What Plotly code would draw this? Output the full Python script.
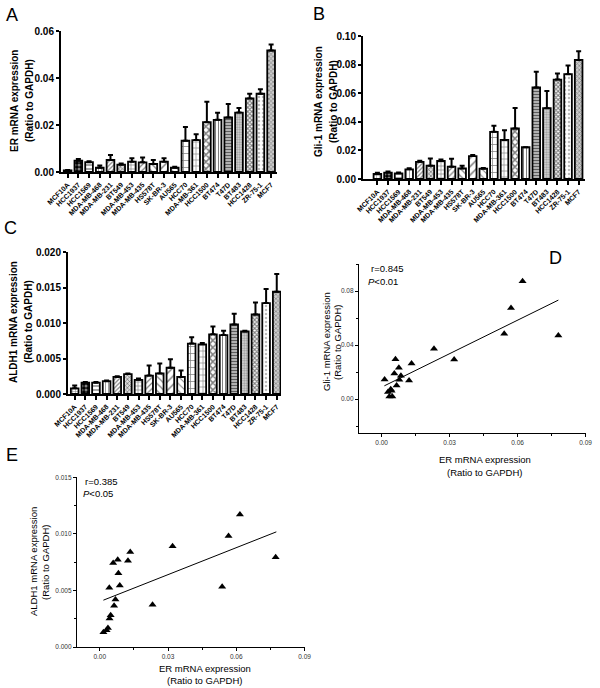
import plotly.graph_objects as go

# ---------------- data ----------------
cells = ["MCF10A", "HCC1937", "HCC1569", "MDA-MB-468", "MDA-MB-231", "BT549",
         "MDA-MB-453", "MDA-MB-435", "HS578T", "SK-BR-3", "AU565", "HCC70",
         "MDA-MB-361", "HCC1500", "BT474", "T47D", "BT483", "HCC1428",
         "ZR-75-1", "MCF7"]

er_mean = [0.0007, 0.0048, 0.0042, 0.0018, 0.0051, 0.0031, 0.0044, 0.0041, 0.0034, 0.0044,
           0.0018, 0.0133, 0.0136, 0.0212, 0.0222, 0.0232, 0.0253, 0.0313, 0.0333, 0.0517]
er_err = [0.0002, 0.0007, 0.0004, 0.0010, 0.0021, 0.0005, 0.0014, 0.0021, 0.0017, 0.0014,
          0.0004, 0.0058, 0.0025, 0.0087, 0.0030, 0.0057, 0.0019, 0.0020, 0.0019, 0.0026]

gli_mean = [0.0035, 0.0045, 0.0040, 0.0068, 0.0120, 0.0093, 0.0126, 0.0086, 0.0074, 0.0160,
            0.0072, 0.0330, 0.0273, 0.0353, 0.0222, 0.0640, 0.0495, 0.0695, 0.0733, 0.0833]
gli_err = [0.0008, 0.0008, 0.0006, 0.0008, 0.0008, 0.0050, 0.0010, 0.0056, 0.0018, 0.0007,
           0.0005, 0.0042, 0.0068, 0.0143, 0.0000, 0.0110, 0.0120, 0.0042, 0.0060, 0.0060]

aldh_mean = [0.0008, 0.0016, 0.0016, 0.0018, 0.0024, 0.0028, 0.0020, 0.0026, 0.0029, 0.0037,
             0.0024, 0.0071, 0.0070, 0.0084, 0.0083, 0.0098, 0.0088, 0.0112, 0.0128, 0.0144]
aldh_err = [0.0004, 0.0001, 0.0001, 0.0001, 0.0001, 0.0001, 0.0002, 0.0014, 0.0014, 0.0012,
            0.0009, 0.0009, 0.0002, 0.0011, 0.0006, 0.0015, 0.0001, 0.0017, 0.0020, 0.0025]

# scatter D: ER vs Gli-1
d_er = [0.0622, 0.0571, 0.0541, 0.0780, 0.0231, 0.0320, 0.0061, 0.0076, 0.0132, 0.0056,
        0.0013, 0.0085, 0.0078, 0.0121, 0.0066, 0.0028, 0.0040, 0.0044, 0.0034, 0.0047]
d_gli = [0.0872, 0.0674, 0.0484, 0.0472, 0.0373, 0.0294, 0.0296, 0.0232, 0.0264, 0.0190,
         0.0146, 0.0173, 0.0143, 0.0138, 0.0101, 0.0054, 0.0074, 0.0062, 0.0020, 0.0020]
d_fit_x = [0.0012, 0.0780]
d_fit_y = [0.0099, 0.0733]

# scatter E: ER vs ALDH1
e_er = [0.0616, 0.0566, 0.0773, 0.0538, 0.0320, 0.0232, 0.0134, 0.0124, 0.0079, 0.0059,
        0.0082, 0.0088, 0.0042, 0.0069, 0.0063, 0.0048, 0.0043, 0.0036, 0.0030, 0.0016]
e_aldh = [0.01172, 0.00982, 0.00793, 0.00533, 0.00890, 0.00373, 0.00840, 0.00763, 0.00772, 0.00743,
          0.00651, 0.00544, 0.00524, 0.00420, 0.00364, 0.00281, 0.00251, 0.00169, 0.00148, 0.00130]
e_fit_x = [0.0016, 0.0776]
e_fit_y = [0.00414, 0.01018]

# ---------------- styles ----------------
W, H = 600, 688
FONT = "Liberation Sans"

pat_shape = ['+', '.', '-', '|', '/', 'x', '+', '/', '\\', '/',
             '\\', '+', '+', 'x', '|', '-', '.', 'x', '.', 'x']
pat_fg = ['black', 'white', 'black', 'black', 'black', 'black', 'black', 'black', 'black', 'black',
          'black', 'black', 'black', 'black', 'black', 'black', '#555555', 'black', '#777777', '#444444']
pat_bg = ['white', 'black', 'white', 'white', 'white', '#dddddd', 'white', 'white', 'white', 'white',
          'white', 'white', 'white', 'white', 'white', '#bbbbbb', '#dddddd', 'white', 'white', '#cccccc']
pat_size = [3, 4, 4, 3, 3, 3, 4, 4, 5, 6, 5, 7, 6, 5, 3, 3, 2.5, 3, 4, 3]
pat_sol = [0.3, 0.45, 0.35, 0.25, 0.4, 0.4, 0.3, 0.3, 0.25, 0.25,
           0.2, 0.2, 0.2, 0.55, 0.35, 0.4, 0.5, 0.6, 0.3, 0.45]


def px(x):
    return x / W


def py(y):
    return 1 - y / H


fig = go.Figure()


def add_bars(means, errs, xa, ya):
    fig.add_trace(go.Bar(
        x=cells, y=means, xaxis=xa, yaxis=ya, width=0.72,
        marker=dict(color='white', line=dict(color='black', width=1.8),
                    pattern=dict(shape=pat_shape, fgcolor=pat_fg, bgcolor=pat_bg,
                                 size=pat_size, solidity=pat_sol)),
        error_y=dict(type='data', symmetric=False, array=errs,
                     arrayminus=[0] * len(errs), color='black', thickness=2, width=2.5),
        showlegend=False))


add_bars(er_mean, er_err, 'x', 'y')
add_bars(gli_mean, gli_err, 'x2', 'y2')
add_bars(aldh_mean, aldh_err, 'x3', 'y3')

for xs, ys, fx, fy, xa, ya in [(d_er, d_gli, d_fit_x, d_fit_y, 'x4', 'y4'),
                               (e_er, e_aldh, e_fit_x, e_fit_y, 'x5', 'y5')]:
    fig.add_trace(go.Scatter(x=fx, y=fy, xaxis=xa, yaxis=ya, mode='lines',
                             line=dict(color='black', width=1), showlegend=False))
    fig.add_trace(go.Scatter(x=xs, y=ys, xaxis=xa, yaxis=ya, mode='markers',
                             marker=dict(symbol='triangle-up', size=7, color='black'),
                             showlegend=False))


def cat_xaxis(x0, x1, anchor, rng):
    return dict(domain=[px(x0), px(x1)], anchor=anchor, range=rng,
                tickmode='array', tickvals=cells, ticktext=cells, tickangle=-45,
                tickfont=dict(size=7, family=FONT, color='black', weight='bold'),
                ticks='outside', ticklen=4, tickwidth=1.5, tickcolor='black',
                showline=True, linewidth=2, linecolor='black', showgrid=False,
                zeroline=False, fixedrange=True)


def bar_yaxis(y_top, y_bot, anchor, rng, dtick, fmt):
    return dict(domain=[py(y_bot), py(y_top)], anchor=anchor, range=rng, dtick=dtick,
                tick0=0, tickformat=fmt,
                tickfont=dict(size=10, family=FONT, color='black', weight='bold'),
                ticks='outside', ticklen=3, tickwidth=2, tickcolor='black',
                showline=True, linewidth=2, linecolor='black', showgrid=False,
                zeroline=False)


def sc_axis(d0, d1, anchor, rng, dtick, mdtick, fmt, horizontal):
    dom = [px(d0), px(d1)] if horizontal else [py(d1), py(d0)]
    return dict(domain=dom, anchor=anchor, range=rng, dtick=dtick, tick0=0,
                tickformat=fmt, tickfont=dict(size=6.5, family=FONT, color='#333333'),
                ticks='outside', ticklen=3, tickwidth=1, tickcolor='black',
                minor=dict(ticks='outside', ticklen=2, dtick=mdtick, tick0=0,
                           tickcolor='black', tickwidth=1),
                showline=True, linewidth=1.2, linecolor='black', showgrid=False,
                zeroline=False)


fig.update_layout(
    width=W, height=H, margin=dict(l=0, r=0, t=0, b=0, autoexpand=False),
    paper_bgcolor='white', plot_bgcolor='white', bargap=0.28,
    font=dict(family=FONT, color='black'),
    xaxis=cat_xaxis(61, 277, 'y', [-0.62, 19.55]),
    yaxis=bar_yaxis(31, 172, 'x', [0, 0.06], 0.02, '.2f'),
    xaxis2=cat_xaxis(363, 585, 'y2', [-1.36, 19.6]),
    yaxis2=bar_yaxis(36, 179, 'x2', [0, 0.1], 0.02, '.2f'),
    xaxis3=cat_xaxis(68, 281, 'y3', [-0.63, 19.4]),
    yaxis3=bar_yaxis(252, 394, 'x3', [0, 0.02], 0.005, '.3f'),
    xaxis4=sc_axis(359, 586, 'y4', [-0.01, 0.0902], 0.03, 0.015, '.2f', True),
    yaxis4=sc_axis(264, 433, 'x4', [-0.025, 0.1], 0.04, 0.02, '.2f', False),
    xaxis5=sc_axis(77, 305, 'y5', [-0.01, 0.0902], 0.03, 0.015, '.2f', True),
    yaxis5=sc_axis(477, 647, 'x5', [0, 0.01503], 0.005, 0.0025, '.3f', False),
)

ann = []


def text(t, x, y, size, bold=False, angle=0, xanchor='center'):
    ann.append(dict(text=t, x=px(x), y=py(y), xref='paper', yref='paper',
                    showarrow=False, textangle=angle, xanchor=xanchor, yanchor='middle',
                    font=dict(size=size, family=FONT, color='black',
                              weight='bold' if bold else 'normal')))


# panel letters
for t, x, y in [("A", 12, 15), ("B", 319, 14), ("C", 10, 228), ("D", 555, 258), ("E", 12, 455)]:
    text(t, x, y, 18)

# bar y titles
text("ER mRNA expression", 14, 101, 10, True, -90)
text("(Ratio to GAPDH)", 29, 101, 10, True, -90)
text("Gli-1 mRNA expression", 318, 102, 10, True, -90)
text("(Ratio to GAPDH)", 333, 102, 10, True, -90)
text("ALDH1 mRNA expression", 14, 322, 10, True, -90)
text("(Ratio to GAPDH)", 29, 322, 10, True, -90)

# scatter titles
text("Gli-1 mRNA expression", 326, 342, 9.5, False, -90)
text("(Ratio to GAPDH)", 337, 342, 9.5, False, -90)
text("ER mRNA expression", 485, 459, 9.5)
text("(Ratio to GAPDH)", 485, 472, 9.5)
text("ALDH1 mRNA expression", 33, 562, 9.5, False, -90)
text("(Ratio to GAPDH)", 45, 562, 9.5, False, -90)
text("ER mRNA expression", 205, 668, 9.5)
text("(Ratio to GAPDH)", 205, 680, 9.5)

# stats
text("r=0.845", 369, 268.5, 9.5, xanchor='left')
text("<i>P</i><0.01", 366, 281.5, 9.5, xanchor='left')
text("r=0.385", 83, 481.5, 9.5, xanchor='left')
text("<i>P</i><0.05", 81, 493, 9.5, xanchor='left')

fig.update_layout(annotations=ann)
fig.write_html("out.html", config={"displayModeBar": False},
               post_script="document.body.style.margin='0';document.body.style.padding='0';")
